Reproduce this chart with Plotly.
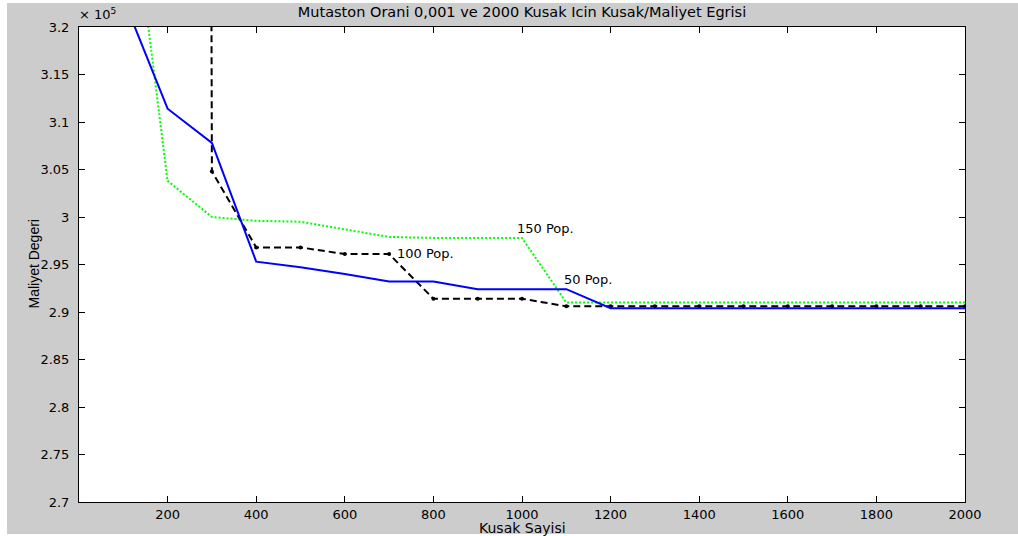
import plotly.graph_objects as go

# Generations (x) and cost values (in units of 1e5)
gen = [100, 200, 300, 400, 500, 600, 700, 800, 900, 1000, 1100, 1200, 1300, 1400,
       1500, 1600, 1700, 1800, 1900, 2000]

pop50 = [3.230, 3.114, 3.078, 2.953, 2.947, 2.940, 2.932, 2.932, 2.924, 2.924, 2.924,
         2.904, 2.904, 2.904, 2.904, 2.904, 2.904, 2.904, 2.904, 2.904]

gen100 = [200, 300, 400, 500, 600, 700, 800, 900, 1000, 1100, 1200, 1300, 1400,
          1500, 1600, 1700, 1800, 1900, 2000]
pop100 = [20.0, 3.048, 2.968, 2.968, 2.961, 2.961, 2.914, 2.914, 2.914, 2.906, 2.906,
          2.906, 2.906, 2.906, 2.906, 2.906, 2.906, 2.906, 2.906]

pop150 = [3.410, 3.038, 3.000, 2.996, 2.995, 2.987, 2.979, 2.978, 2.978, 2.978, 2.910,
          2.910, 2.910, 2.910, 2.910, 2.910, 2.910, 2.910, 2.910, 2.910]

labels = ["150 Pop.", "100 Pop.", "50 Pop."]
label_x = [984, 713, 1090]
label_y = [2.988, 2.962, 2.934]

xticks = [200, 400, 600, 800, 1000, 1200, 1400, 1600, 1800, 2000]
yticks = [2.7, 2.75, 2.8, 2.85, 2.9, 2.95, 3.0, 3.05, 3.1, 3.15, 3.2]
yticktext = ["2.7", "2.75", "2.8", "2.85", "2.9", "2.95", "3", "3.05", "3.1", "3.15", "3.2"]

FONT = "DejaVu Sans, Verdana, sans-serif"
NARROW = "Liberation Sans Narrow, Liberation Sans, Arial, sans-serif"

fig = go.Figure()
fig.add_trace(go.Scatter(x=gen, y=pop150, mode="lines",
                         line=dict(color="#00ff00", width=2, dash="2px,2px"),
                         showlegend=False))
fig.add_trace(go.Scatter(x=gen100, y=pop100, mode="lines+markers",
                         line=dict(color="black", width=2, dash="7px,4px"),
                         marker=dict(color="black", size=4),
                         showlegend=False))
fig.add_trace(go.Scatter(x=gen, y=pop50, mode="lines",
                         line=dict(color="#0000ff", width=2),
                         showlegend=False))

for t, lx, ly in zip(labels, label_x, label_y):
    fig.add_annotation(x=lx, y=ly, text=t, showarrow=False, xanchor="left",
                       yanchor="middle", font=dict(size=13, color="black", family=FONT))

# axis titles and exponent
fig.add_annotation(xref="paper", yref="paper", x=0.5, y=-0.0547, text="Kusak Sayisi",
                   showarrow=False, xanchor="center", yanchor="middle",
                   font=dict(size=14, color="black", family=FONT))
fig.add_annotation(xref="paper", yref="paper", x=-0.0519, y=0.5, text="Maliyet Degeri",
                   showarrow=False, xanchor="center", yanchor="middle", textangle=-90,
                   font=dict(size=14, color="black", family=NARROW))
fig.add_annotation(xref="paper", yref="paper", x=-0.002, y=1.027, text="× 10<sup>5</sup>",
                   showarrow=False, xanchor="left", yanchor="middle",
                   font=dict(size=13, color="black", family=FONT))

# thin white outer border strips (outside plot area)
W, H = 1018, 536
L, R, T, B = 79, 965, 27, 502
def px2paper_x(px):
    return (px - L) / (R - L)
def px2paper_y(py):
    return (B - py) / (B - T)
for x0, x1, y0, y1 in [(0, 7, 0, H), (0, W, 0, 3), (0, W, 534, H)]:
    fig.add_shape(type="rect", xref="paper", yref="paper",
                  x0=px2paper_x(x0), x1=px2paper_x(x1),
                  y0=px2paper_y(y1), y1=px2paper_y(y0),
                  fillcolor="white", line=dict(width=0), layer="above")

fig.update_layout(
    width=W, height=H, autosize=False,
    margin=dict(l=L, r=W - R, t=T, b=H - B),
    paper_bgcolor="#cccccc", plot_bgcolor="white",
    title=dict(text="Mutaston Orani 0,001 ve 2000 Kusak Icin Kusak/Maliyet Egrisi",
               x=0.5, xref="paper", xanchor="center", y=1 - 12 / H, yref="container",
               yanchor="middle", font=dict(size=14.5, color="black", family=FONT)),
    font=dict(family=FONT, size=13, color="black"),
)
fig.update_xaxes(range=[0, 2000], tickvals=xticks, ticks="inside", ticklen=6,
                 tickcolor="black", showline=True, linecolor="black", linewidth=1,
                 mirror="ticks", showgrid=False, zeroline=False,
                 tickfont=dict(size=13, family=FONT, color="black"))
fig.update_yaxes(range=[2.7, 3.2], tickvals=yticks, ticktext=yticktext, ticks="inside",
                 ticklen=6, tickcolor="black", showline=True, linecolor="black",
                 linewidth=1, mirror="ticks", showgrid=False, zeroline=False,
                 ticklabelstandoff=6,
                 tickfont=dict(size=13, family=FONT, color="black"))

fig.write_html("out.html")
